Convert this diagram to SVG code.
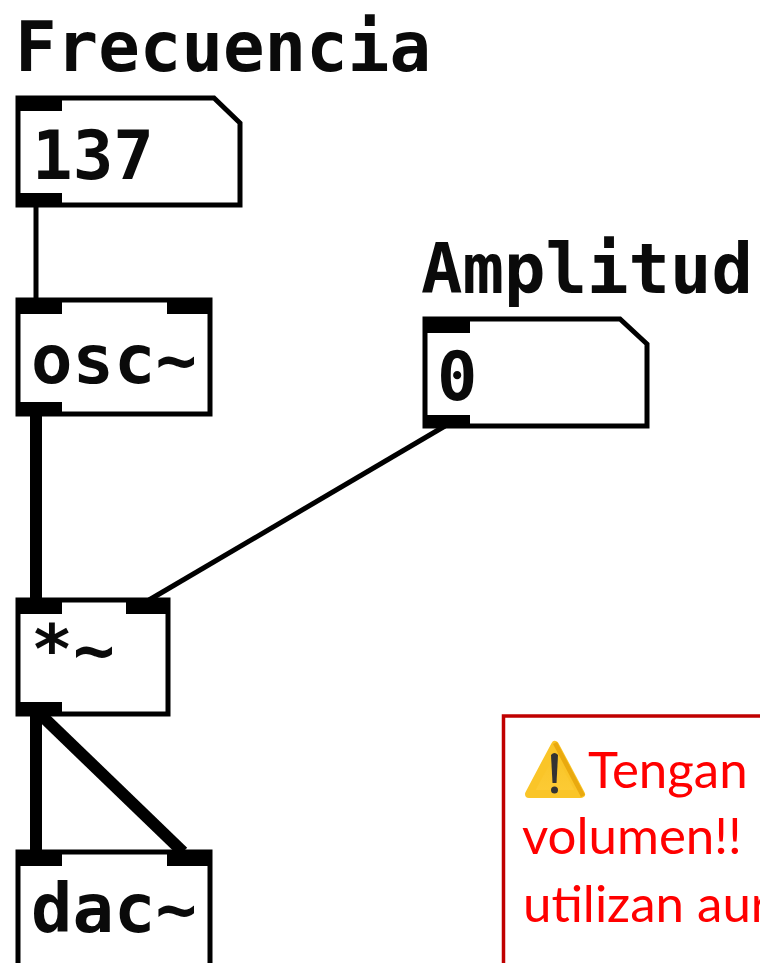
<svg xmlns="http://www.w3.org/2000/svg" width="760" height="963" viewBox="0 0 760 963">
<defs>
<style>
.box{fill:#fff;stroke:#000;stroke-width:5}
.port{fill:#000}
.pd{font-family:"DejaVu Sans Mono",monospace;font-weight:700;fill:#0a0a0a}
.lbl{font-size:69px}
.val{font-size:67px}
.warn{font-family:Lato,"Open Sans",sans-serif;font-size:51px;fill:#f00}
.w{fill:none;stroke:#000}
</style>
<linearGradient id="tri" x1="0" y1="0" x2="0" y2="1"><stop offset="0" stop-color="#f7c325"/><stop offset="1" stop-color="#fdcb35"/></linearGradient>
</defs>
<rect width="760" height="963" fill="#fff"/>
<g id="label-frecuencia"><text class="pd lbl" x="15" y="71" textLength="416" lengthAdjust="spacingAndGlyphs">Frecuencia</text></g>
<g id="label-amplitud"><text class="pd lbl" x="421" y="293" textLength="332" lengthAdjust="spacingAndGlyphs">Amplitud</text></g>
<g id="connectors">
<path class="w" stroke-width="5" d="M36 205V300"/>
<path class="w" stroke-width="12" d="M36 414V600"/>
<path class="w" stroke-width="5" d="M445 426L149 600"/>
<path class="w" stroke-width="12" d="M36 714V852"/>
<path class="w" stroke-width="12" d="M40 714L183 852"/>
</g>
<g id="num-137">
<path class="box" d="M18 98H214L240 123V205H18Z"/>
<rect class="port" x="16" y="96" width="46" height="15"/>
<rect class="port" x="16" y="193" width="46" height="14"/>
<text class="pd val" x="32" y="179" textLength="122" lengthAdjust="spacingAndGlyphs">137</text>
</g>
<g id="osc">
<rect class="box" x="18" y="300" width="192" height="114"/>
<rect class="port" x="16" y="298" width="46" height="16"/>
<rect class="port" x="167" y="298" width="45" height="16"/>
<rect class="port" x="16" y="402" width="46" height="14"/>
<text class="pd val" x="31" y="383" textLength="166" lengthAdjust="spacingAndGlyphs">osc~</text>
</g>
<g id="num-0">
<path class="box" d="M425 319H620L647 344V426H425Z"/>
<rect class="port" x="423" y="317" width="47" height="16"/>
<rect class="port" x="423" y="415" width="47" height="13"/>
<text class="pd val" x="437" y="400">0</text>
</g>
<g id="mul">
<rect class="box" x="18" y="600" width="150" height="114"/>
<rect class="port" x="16" y="598" width="46" height="16"/>
<rect class="port" x="126" y="598" width="44" height="16"/>
<rect class="port" x="16" y="702" width="46" height="14"/>
<text class="pd val" x="31" y="673" textLength="84" lengthAdjust="spacingAndGlyphs">*~</text>
</g>
<g id="dac">
<rect class="box" x="18" y="852" width="192" height="120"/>
<rect class="port" x="16" y="850" width="46" height="16"/>
<rect class="port" x="167" y="850" width="45" height="16"/>
<text class="pd val" x="31" y="932" textLength="166" lengthAdjust="spacingAndGlyphs">dac~</text>
</g>
<g id="warning">
<rect x="503.500" y="716" width="280" height="280" fill="#fff" stroke="#c00000" stroke-width="3.500"/>
<g id="warning-icon">
<path d="M555 745L581 794H529Z" fill="url(#tri)" stroke="#fac528" stroke-width="8" stroke-linejoin="round"/>
<path d="M557 742L585 795L581 797L553 744Z" fill="#e9a90f"/>
<path d="M551 755Q554.500 751 558 755L556.500 783H552.500Z" fill="#333"/>
<circle cx="554.500" cy="790" r="3.500" fill="#333"/>
</g>
<text class="warn" x="588" y="788">Tengan</text>
<text class="warn" x="522" y="854">volumen!!</text>
<text class="warn" x="523" y="922">utilizan aur</text>
</g>
</svg>
